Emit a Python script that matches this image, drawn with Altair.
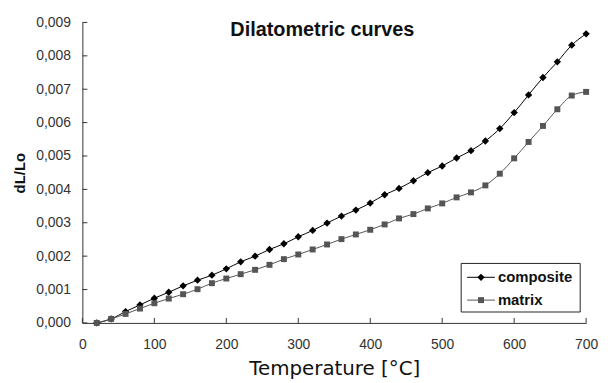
import altair as alt
import pandas as pd

temps = [20, 40, 60, 80, 100, 120, 140, 160, 180, 200, 220, 240, 260, 280, 300,
         320, 340, 360, 380, 400, 420, 440, 460, 480, 500, 520, 540, 560, 580,
         600, 620, 640, 660, 680, 700]
composite = [0.0000, 0.00012, 0.00034, 0.00054, 0.00074, 0.00092, 0.00111, 0.00128,
             0.00143, 0.00162, 0.00183, 0.00200, 0.00220, 0.00237, 0.00258, 0.00277,
             0.00299, 0.00320, 0.00338, 0.00359, 0.00384, 0.00403, 0.00426, 0.00450,
             0.00470, 0.00494, 0.00516, 0.00545, 0.00582, 0.00630, 0.00683, 0.00735,
             0.00782, 0.00832, 0.00866]
matrix = [0.0000, 0.00012, 0.00027, 0.00043, 0.00059, 0.00073, 0.00086, 0.00101,
          0.00119, 0.00133, 0.00146, 0.00159, 0.00174, 0.00191, 0.00205, 0.00220,
          0.00235, 0.00251, 0.00265, 0.00279, 0.00295, 0.00313, 0.00326, 0.00343,
          0.00358, 0.00376, 0.00391, 0.00412, 0.00447, 0.00493, 0.00542, 0.00590,
          0.00640, 0.00681, 0.00692]
series = ["composite", "matrix"]
series_colors = ["#000000", "#555555"]
series_shapes = ["diamond", "square"]
x_ticks = [0, 100, 200, 300, 400, 500, 600, 700]
y_ticks = [0.000, 0.001, 0.002, 0.003, 0.004, 0.005, 0.006, 0.007, 0.008, 0.009]

df = pd.concat([
    pd.DataFrame({"T": temps, "v": composite, "s": "composite"}),
    pd.DataFrame({"T": temps, "v": matrix, "s": "matrix"}),
])

FONT = "Liberation Sans"

color_scale = alt.Scale(domain=series, range=series_colors)
xs = alt.Scale(domain=[0, 700], nice=False)
ys = alt.Scale(domain=[0, 0.009], nice=False)

x_axis = alt.Axis(values=x_ticks, title="Temperature [°C]", grid=False,
                  ticks=False, labelFontSize=14, labelColor="#333",
                  labelOverlap=False, labelFlush=False,
                  titleFont="DejaVu Sans",
                  titleFontSize=20, titleFontWeight="normal", titleColor="#111",
                  titlePadding=7, labelPadding=15, domainColor="#333")
y_axis = alt.Axis(values=y_ticks, title="dL/Lo", grid=False,
                  labelExpr="replace(format(datum.value, '.3f'), '.', ',')",
                  labelOverlap=False, labelFlush=False,
                  ticks=False, labelFontSize=14, labelColor="#333",
                  titleFontSize=15, titleFontWeight="bold", titleColor="#111",
                  titlePadding=8, labelPadding=12, domainColor="#333")

lines = alt.Chart(df).mark_line(interpolate="monotone", strokeWidth=1).encode(
    x=alt.X("T:Q", scale=xs, axis=x_axis, title="Temperature [°C]"),
    y=alt.Y("v:Q", scale=ys, axis=y_axis, title="dL/Lo"),
    color=alt.Color("s:N", scale=color_scale, legend=None),
)

points = alt.Chart(df).mark_point(filled=True, opacity=1).encode(
    x=alt.X("T:Q", scale=xs, axis=x_axis, title="Temperature [°C]"),
    y=alt.Y("v:Q", scale=ys, axis=y_axis, title="dL/Lo"),
    color=alt.Color("s:N", scale=color_scale, legend=None),
    shape=alt.Shape("s:N", scale=alt.Scale(domain=series, range=series_shapes), legend=None),
    size=alt.Size("s:N", scale=alt.Scale(domain=series, range=[55, 36]), legend=None),
)

xt = alt.Chart(pd.DataFrame({"t": x_ticks})).mark_rule(color="#333").encode(
    x=alt.X("t:Q", scale=xs, axis=x_axis, title="Temperature [°C]"),
    y=alt.value(303), y2=alt.value(298))
yt = alt.Chart(pd.DataFrame({"t": y_ticks})).mark_rule(color="#333").encode(
    y=alt.Y("t:Q", scale=ys, axis=y_axis, title="dL/Lo"),
    x=alt.value(0), x2=alt.value(5))

title = alt.Chart(pd.DataFrame({"t": ["Dilatometric curves"]})).mark_text(
    font=FONT, fontSize=20, fontWeight="bold", color="#111", baseline="top"
).encode(text="t:N", x=alt.value(242), y=alt.value(-2))

# manual legend (line + marker + label inside a framed box)
leg_box = alt.Chart(pd.DataFrame({"a": [0]})).mark_rect(
    fill="white", stroke="#222", strokeWidth=1
).encode(x=alt.value(382), x2=alt.value(502), y=alt.value(243), y2=alt.value(292))

leg_layers = [leg_box]
leg_rows = [257, 280]
for name, col, shp, sz, yy in zip(series, series_colors, series_shapes, [55, 36], leg_rows):
    one = pd.DataFrame({"s": [name]})
    leg_layers.append(alt.Chart(one).mark_rule(color=col, strokeWidth=1).encode(
        x=alt.value(388), x2=alt.value(416), y=alt.value(yy)))
    leg_layers.append(alt.Chart(one).mark_point(filled=True, opacity=1, color=col, shape=shp, size=sz).encode(
        x=alt.value(402), y=alt.value(yy)))
    leg_layers.append(alt.Chart(one).mark_text(
        font=FONT, fontSize=15, fontWeight="bold", color="#111", align="left", baseline="middle"
    ).encode(text="s:N", x=alt.value(419), y=alt.value(yy)))

chart = alt.layer(lines, points, xt, yt, title, *leg_layers).properties(
    width=508, height=303,
    autosize=alt.AutoSizeParams(type="none"),
    padding={"left": 75, "top": 13, "right": 16, "bottom": 58},
).configure(font=FONT).configure_view(stroke=None).configure_axis(labelFont=FONT, titleFont=FONT)

chart.save("out.html", embed_options={"renderer": "svg", "actions": False})
